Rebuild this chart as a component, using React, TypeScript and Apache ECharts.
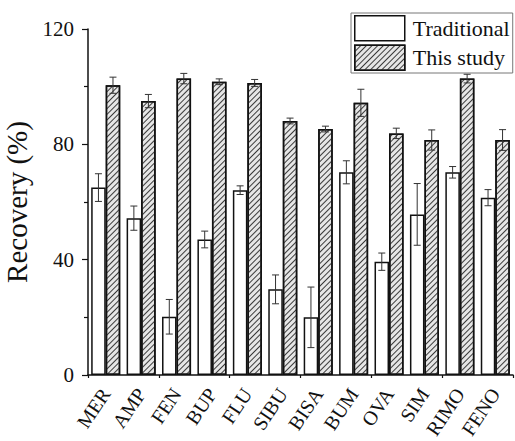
import React, { useEffect, useRef } from "react";
import * as echarts from "echarts";

const categories = ["MER", "AMP", "FEN", "BUP", "FLU", "SIBU", "BISA", "BUM", "OVA", "SIM", "RIMO", "FENO"];
const traditional = [65.0, 54.4, 20.2, 47.0, 64.1, 29.7, 20.0, 70.3, 39.3, 55.7, 70.3, 61.5];
const traditionalErr = [4.8, 4.2, 6.0, 2.9, 1.5, 5.0, 10.5, 4.0, 3.0, 10.7, 2.0, 2.8];
const thisStudy = [100.5, 95.0, 102.8, 101.7, 101.3, 88.1, 85.3, 94.4, 83.8, 81.5, 102.8, 81.5];
const thisStudyErr = [2.8, 2.3, 1.8, 1.0, 1.2, 1.0, 1.0, 4.7, 1.8, 3.5, 1.5, 3.6];
const seriesNames = ["Traditional", "This study"];

const FONT = "Liberation Serif";

export default function App() {
  const ref = useRef<HTMLDivElement>(null);
  useEffect(() => {
    if (!ref.current) return;
    const chart = echarts.init(ref.current, undefined, { renderer: "svg" });

    const BAR_FRAC = 0.41;
    const makeErr = (vals: number[], errs: number[], side: number) => ({
      type: "custom",
      z: 10,
      silent: true,
      data: vals.map((v, i) => [i, v, errs[i]]),
      encode: { x: 0, y: 1 },
      renderItem: (params: any, api: any) => {
        const idx = api.value(0);
        const v = api.value(1);
        const e = api.value(2);
        const band = api.size([1, 0])[0];
        const off = side * band * BAR_FRAC / 2;
        const top = api.coord([idx, v + e]);
        const bot = api.coord([idx, v - e]);
        const x = top[0] + off;
        const cap = 3.5;
        const style = { stroke: "#333", lineWidth: 1 };
        return {
          type: "group",
          children: [
            { type: "line", shape: { x1: x, y1: top[1], x2: x, y2: bot[1] }, style },
            { type: "line", shape: { x1: x - cap, y1: top[1], x2: x + cap, y2: top[1] }, style },
            { type: "line", shape: { x1: x - cap, y1: bot[1], x2: x + cap, y2: bot[1] }, style },
          ],
        };
      },
    });

    const hatchDecal = {
      symbol: "rect",
      symbolSize: 1,
      color: "#3a3a3a",
      dashArrayX: [1, 0],
      dashArrayY: [1, 2.6],
      rotation: -Math.PI / 4,
    };

    chart.setOption({
      animation: false,
      backgroundColor: "#ffffff",
      textStyle: { fontFamily: FONT },
      grid: { left: 88, right: 2, top: 29, bottom: 66, containLabel: false, outerBoundsMode: "none" },
      legend: {
        data: seriesNames,
        orient: "vertical",
        left: 351,
        top: 13,
        padding: [2, 3, 2, 3],
        itemGap: 3,
        itemWidth: 50,
        itemHeight: 25,
        icon: "rect",
        borderColor: "#777",
        borderWidth: 1,
        textStyle: { fontFamily: FONT, fontSize: 22, color: "#111", padding: [0, 0, 0, 3] },
        itemStyle: { borderColor: "#111", borderWidth: 1.5 },
      },
      xAxis: [
        {
          type: "category",
          data: categories,
          boundaryGap: true,
          axisLine: { lineStyle: { color: "#111", width: 1.5 } },
          axisTick: { alignWithLabel: true, length: 6, lineStyle: { color: "#111", width: 1.2 } },
          axisLabel: {
            interval: 0,
            rotate: 56,
            fontSize: 20,
            fontFamily: FONT,
            color: "#111",
            margin: 15,
            hideOverlap: false,
          },
        },
        {
          type: "category",
          data: categories,
          boundaryGap: true,
          position: "bottom",
          axisLine: { show: false },
          axisTick: { show: true, length: 3, lineStyle: { color: "#111", width: 1.2 } },
          axisLabel: { show: false },
        },
      ],
      yAxis: {
        type: "value",
        min: 0,
        max: 120,
        interval: 40,
        name: "Recovery (%)",
        nameLocation: "middle",
        nameGap: 53,
        nameTextStyle: { fontFamily: FONT, fontSize: 29, color: "#111" },
        axisLine: { show: true, lineStyle: { color: "#111", width: 1.5 } },
        axisTick: { show: true, length: 6, lineStyle: { color: "#111", width: 1.2 } },
        minorTick: { show: true, splitNumber: 2, length: 4, lineStyle: { color: "#111", width: 1.2 } },
        splitLine: { show: false },
        axisLabel: { fontSize: 21, fontFamily: FONT, color: "#111", margin: 14 },
      },
      series: [
        {
          name: seriesNames[0],
          type: "bar",
          data: traditional,
          barWidth: "41%",
          barGap: "0%",
          itemStyle: { color: "#ffffff", borderColor: "#111", borderWidth: 1.5 },
        },
        {
          name: seriesNames[1],
          type: "bar",
          data: thisStudy,
          barWidth: "41%",
          barGap: "0%",
          itemStyle: { color: "#e6e6e6", borderColor: "#111", borderWidth: 1.5, decal: hatchDecal },
        },
        makeErr(traditional, traditionalErr, -1),
        makeErr(thisStudy, thisStudyErr, 1),
      ],
    });
    return () => chart.dispose();
  }, []);
  return <div ref={ref} style={{ position: "fixed", left: 0, top: 0, width: 515, height: 441 }} />;
}
